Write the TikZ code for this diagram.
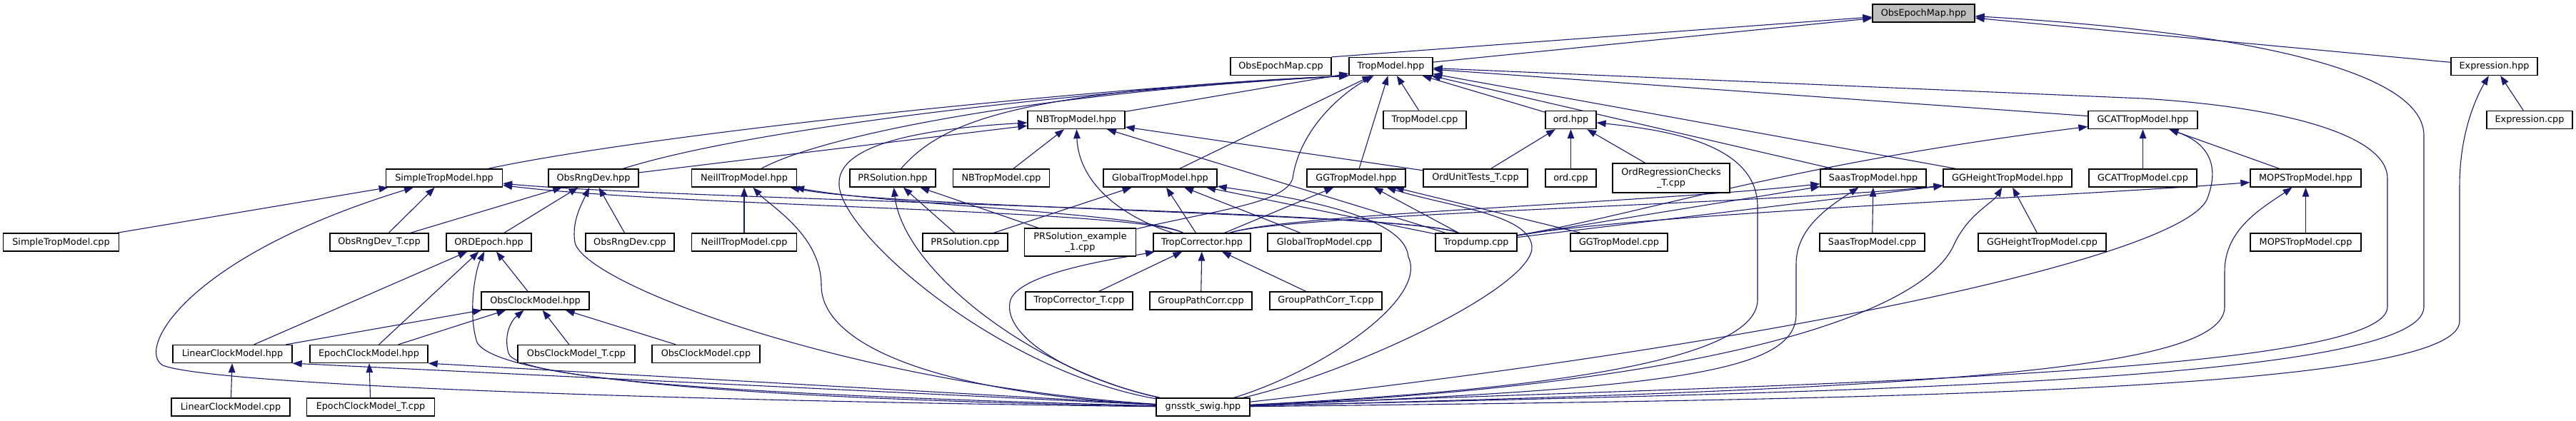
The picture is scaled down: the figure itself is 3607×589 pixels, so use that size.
\documentclass[tikz,border=0pt]{standalone}
\usepackage{fontspec}
\setmainfont{DejaVu Sans}
\usetikzlibrary{arrows.meta,backgrounds}
\definecolor{inclblue}{HTML}{191970}
\definecolor{grey75}{HTML}{BFBFBF}
\begin{document}
\begin{tikzpicture}[x=1pt,y=-1pt]
	\tikzstyle{filebox}=[rectangle,draw=black,fill=white,line width=1.3pt,inner sep=0pt,minimum height=25pt,font=\fontsize{12.8}{15}\selectfont]
	\tikzstyle{incl}=[draw=inclblue,line width=1.1pt,-{Triangle[length=13pt,width=9.5pt]}]
	\useasboundingbox (0,0) rectangle (3607,589);
	\node[filebox,fill=grey75,minimum width=143pt] (1) at (2693.5,18.5) {ObsEpochMap.hpp};
	\node[filebox,minimum width=141pt] (2) at (1793.5,93) {ObsEpochMap.cpp};
	\node[filebox,minimum width=117pt] (3) at (1947.5,93) {TropModel.hpp};
	\node[filebox,minimum width=121pt] (4) at (3492.5,93) {Expression.hpp};
	\node[filebox,minimum width=120pt] (5) at (3542,168) {Expression.cpp};
	\node[filebox,minimum width=136pt] (6) at (1507,168) {NBTropModel.hpp};
	\node[filebox,minimum width=116pt] (7) at (1995,168) {TropModel.cpp};
	\node[filebox,minimum width=71pt] (8) at (2199.5,168) {ord.hpp};
	\node[filebox,minimum width=153pt] (9) at (3000.5,168) {GCATTropModel.hpp};
	\node[filebox,minimum width=163pt] (10) at (622,249.5) {SimpleTropModel.hpp};
	\node[filebox,minimum width=126pt] (11) at (831,249.5) {ObsRngDev.hpp};
	\node[filebox,minimum width=147pt] (12) at (1042,249.5) {NeillTropModel.hpp};
	\node[filebox,minimum width=120pt] (13) at (1250,249.5) {PRSolution.hpp};
	\node[filebox,minimum width=135pt] (14) at (1402,249.5) {NBTropModel.cpp};
	\node[filebox,minimum width=159pt] (15) at (1624.5,249.5) {GlobalTropModel.hpp};
	\node[filebox,minimum width=138pt] (16) at (1899,249.5) {GGTropModel.hpp};
	\node[filebox,minimum width=146pt] (17) at (2066,249.5) {OrdUnitTests\_T.cpp};
	\node[filebox,minimum width=71pt] (18) at (2199.5,249.5) {ord.cpp};
	\node[filebox,minimum width=164pt,minimum height=41pt,align=center] (19) at (2340,249.5) {OrdRegressionChecks\\\_T.cpp};
	\node[filebox,minimum width=148pt] (20) at (2623,249.5) {SaasTropModel.hpp};
	\node[filebox,minimum width=180pt] (21) at (2811,249.5) {GGHeightTropModel.hpp};
	\node[filebox,minimum width=151pt] (22) at (3000.5,249.5) {GCATTropModel.cpp};
	\node[filebox,minimum width=155pt] (23) at (3228.5,249.5) {MOPSTropModel.hpp};
	\node[filebox,minimum width=162pt] (24) at (85.5,339.5) {SimpleTropModel.cpp};
	\node[filebox,minimum width=138pt] (25) at (531,339.5) {ObsRngDev\_T.cpp};
	\node[filebox,minimum width=119pt] (26) at (684.5,339.5) {ORDEpoch.hpp};
	\node[filebox,minimum width=124pt] (27) at (882,339.5) {ObsRngDev.cpp};
	\node[filebox,minimum width=147pt] (28) at (1042,339.5) {NeillTropModel.cpp};
	\node[filebox,minimum width=119pt] (29) at (1351.5,339.5) {PRSolution.cpp};
	\node[filebox,minimum width=156pt,minimum height=39pt,align=center] (30) at (1512.5,339.5) {PRSolution\_example\\\_1.cpp};
	\node[filebox,minimum width=136pt] (31) at (1683,339.5) {TropCorrector.hpp};
	\node[filebox,minimum width=159pt] (32) at (1854.5,339.5) {GlobalTropModel.cpp};
	\node[filebox,minimum width=114pt] (33) at (2067,339.5) {Tropdump.cpp};
	\node[filebox,minimum width=136pt] (34) at (2267,339.5) {GGTropModel.cpp};
	\node[filebox,minimum width=147pt] (35) at (2621.5,339.5) {SaasTropModel.cpp};
	\node[filebox,minimum width=179pt] (36) at (2859.5,339.5) {GGHeightTropModel.cpp};
	\node[filebox,minimum width=155pt] (37) at (3228.5,339.5) {MOPSTropModel.cpp};
	\node[filebox,minimum width=151pt] (38) at (749.5,421.5) {ObsClockModel.hpp};
	\node[filebox,minimum width=150pt] (39) at (1511,421.5) {TropCorrector\_T.cpp};
	\node[filebox,minimum width=143pt] (40) at (1681.5,421.5) {GroupPathCorr.cpp};
	\node[filebox,minimum width=157pt] (41) at (1856.5,421.5) {GroupPathCorr\_T.cpp};
	\node[filebox,minimum width=167pt] (42) at (325.5,496) {LinearClockModel.hpp};
	\node[filebox,minimum width=165pt] (43) at (516.5,496) {EpochClockModel.hpp};
	\node[filebox,minimum width=164pt] (44) at (807,496) {ObsClockModel\_T.cpp};
	\node[filebox,minimum width=151pt] (45) at (988.5,496) {ObsClockModel.cpp};
	\node[filebox,minimum width=166pt] (46) at (323,570.5) {LinearClockModel.cpp};
	\node[filebox,minimum width=179pt] (47) at (519,570.5) {EpochClockModel\_T.cpp};
	\node[filebox,minimum width=131pt] (48) at (1684.5,570.5) {gnsstk\_swig.hpp};
	\begin{scope}[on background layer]
	\draw[incl] (2.north east) -- (1);
	\draw[incl] (3) -- (1);
	\draw[incl] (4) -- (1);
	\draw[incl] (48) .. controls (2500,550) and (3394,540) .. (3394,430) -- (3394,190) .. controls (3394,100) and (3150,45) .. (1);
	\draw[incl] (5) -- (4);
	\draw[incl] (48) .. controls (2600,560) and (3444,550) .. (3444,450) -- (3444,260) .. controls (3444,190) and (3465,140) .. (4);
	\draw[incl] (10) .. controls (900,190) and (1500,125) .. (3.south west);
	\draw[incl] (11) .. controls (1050,180) and (1500,128) .. (3.south west);
	\draw[incl] (12) .. controls (1150,190) and (1450,130) .. (3.south west);
	\draw[incl] (13) .. controls (1320,170) and (1420,128) .. (3.south west);
	\draw[incl] (6) -- (3);
	\draw[incl] (15) -- (3);
	\draw[incl] (30) .. controls (1700,295) and (1800,285) .. (1810,250) .. controls (1820,180) and (1880,130) .. (3);
	\draw[incl] (16) -- (3);
	\draw[incl] (7) -- (3);
	\draw[incl] (8) -- (3);
	\draw[incl] (9) -- (3);
	\draw[incl] (20) -- (3);
	\draw[incl] (21) -- (3);
	\draw[incl] (48) .. controls (2400,540) and (3343,530) .. (3343,430) -- (3343,250) .. controls (3343,190) and (3200,150) .. (3000,138) -- (3);
	\draw[incl] (11) -- (6);
	\draw[incl] (48) .. controls (1400,520) and (1180,330) .. (1175,260) .. controls (1170,200) and (1300,180) .. (6);
	\draw[incl] (14) -- (6);
	\draw[incl] (31) .. controls (1560,300) and (1510,250) .. (6);
	\draw[incl] (17) -- (6);
	\draw[incl] (33) -- (6);
	\draw[incl] (17) -- (8);
	\draw[incl] (18) -- (8);
	\draw[incl] (19) -- (8);
	\draw[incl] (48) .. controls (2200,545) and (2461,500) .. (2461,420) -- (2461,290) .. controls (2461,200) and (2330,182) .. (8);
	\draw[incl] (22) -- (9);
	\draw[incl] (23) -- (9);
	\draw[incl] (33) .. controls (2300,300) and (2500,230) .. (9);
	\draw[incl] (48) .. controls (2500,480) and (3050,360) .. (3090,280) .. controls (3110,230) and (3090,200) .. (9);
	\draw[incl] (24) -- (10);
	\draw[incl] (25) -- (10);
	\draw[incl] (48) .. controls (950,562) and (300,540) .. (228,512) .. controls (190,490) and (260,360) .. (10);
	\draw[incl] (31) .. controls (1590,293) and (950,290) .. (10);
	\draw[incl] (33) .. controls (1985,296) and (950,280) .. (10);
	\draw[incl] (25) -- (11);
	\draw[incl] (26) -- (11);
	\draw[incl] (27) -- (11);
	\draw[incl] (48) .. controls (1200,540) and (820,400) .. (805,340) .. controls (800,310) and (815,285) .. (11);
	\draw[incl] (28) -- (12);
	\draw[incl] (48) .. controls (1300,550) and (1150,480) .. (1150,400) .. controls (1150,330) and (1080,290) .. (12);
	\draw[incl] (31) .. controls (1600,298) and (1250,288) .. (12);
	\draw[incl] (33) .. controls (1990,300) and (1250,292) .. (12);
	\draw[incl] (29) -- (13);
	\draw[incl] (30) -- (13);
	\draw[incl] (48) .. controls (1450,520) and (1265,380) .. (13);
	\draw[incl] (29) -- (15);
	\draw[incl] (31) -- (15);
	\draw[incl] (32) -- (15);
	\draw[incl] (33) -- (15);
	\draw[incl] (48) .. controls (1850,520) and (2000,420) .. (1972,360) .. controls (1967,300) and (1800,275) .. (15);
	\draw[incl] (31) -- (16);
	\draw[incl] (33) -- (16);
	\draw[incl] (34) -- (16);
	\draw[incl] (48) .. controls (1900,520) and (2150,400) .. (2145,345) .. controls (2140,300) and (2030,290) .. (16);
	\draw[incl] (35) -- (20);
	\draw[incl] (31) .. controls (1800,300) and (2300,285) .. (20);
	\draw[incl] (33) -- (20);
	\draw[incl] (48) .. controls (2350,545) and (2515,520) .. (2515,440) -- (2515,370) .. controls (2515,320) and (2560,290) .. (20);
	\draw[incl] (36) -- (21);
	\draw[incl] (31) .. controls (1800,300) and (2500,285) .. (21);
	\draw[incl] (33) -- (21);
	\draw[incl] (48) .. controls (2400,540) and (2690,440) .. (2735,345) .. controls (2755,300) and (2790,285) .. (21);
	\draw[incl] (37) -- (23);
	\draw[incl] (33) .. controls (2300,300) and (2900,275) .. (23);
	\draw[incl] (48) .. controls (2700,545) and (3115,520) .. (3115,430) -- (3115,380) .. controls (3115,320) and (3170,290) .. (23);
	\draw[incl] (39) -- (31);
	\draw[incl] (40) -- (31);
	\draw[incl] (41) -- (31);
	\draw[incl] (48) .. controls (1500,530) and (1400,470) .. (1415,420) .. controls (1430,380) and (1580,360) .. (31);
	\draw[incl] (38) -- (26);
	\draw[incl] (42) -- (26);
	\draw[incl] (43) -- (26);
	\draw[incl] (48) .. controls (1100,560) and (700,535) .. (668,480) .. controls (655,440) and (665,380) .. (26);
	\draw[incl] (42) -- (38);
	\draw[incl] (43) -- (38);
	\draw[incl] (44) -- (38);
	\draw[incl] (45) -- (38);
	\draw[incl] (48) .. controls (1100,555) and (725,535) .. (712,495) .. controls (705,470) and (715,450) .. (38);
	\draw[incl] (46) -- (42);
	\draw[incl] (48) -- (42.south east);
	\draw[incl] (47) -- (43);
	\draw[incl] (48) -- (43.south east);
	\end{scope}
\end{tikzpicture}
\end{document}
